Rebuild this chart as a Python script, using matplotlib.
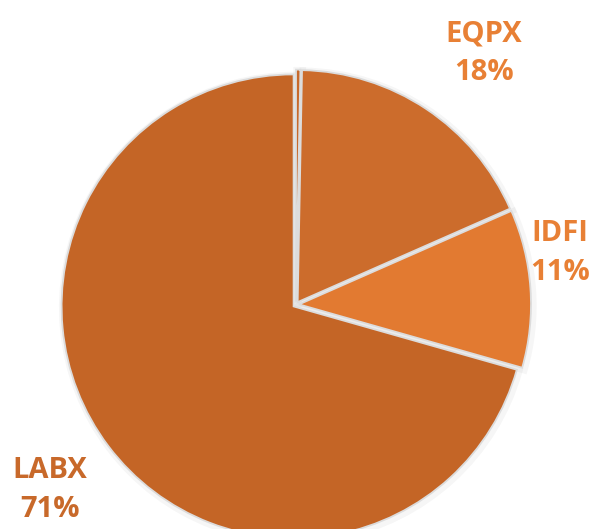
import matplotlib.pyplot as plt

# slice data (clockwise from 12 o'clock)
names = ['', 'EQPX', 'IDFI', 'LABX']
shares = [0.3, 18.1, 11.0, 70.6]
colors = ['#C8692B', '#CC6C2C', '#E27A31', '#C46526']
explode = [3, 3, 3, 3]

fig = plt.figure(figsize=(5.95, 5.29), dpi=100)
ax = fig.add_axes([0, 0, 1, 1])

center = (296, 224.4)
radius = 232

# faint grey glow under the slices
ax.pie(shares, colors=['none'] * 4, startangle=90, counterclock=False,
       center=(center[0] + 1.5, center[1] - 1.5), radius=radius,
       explode=explode, frame=True,
       wedgeprops=dict(edgecolor='#000000', linewidth=6, alpha=0.035))

ax.pie(shares, colors=colors, startangle=90, counterclock=False,
       center=center, radius=radius, explode=explode, frame=True,
       wedgeprops=dict(edgecolor='#dcdcdc', linewidth=1.3))

ax.set_xlim(0, 595)
ax.set_ylim(0, 529)
ax.set_aspect('equal')
ax.axis('off')

font = dict(family='Open Sans', fontweight='bold', fontsize=21,
            ha='center', va='center', linespacing=1.45)
labels = {'EQPX': ((484, 476), '#E88035'),
          'IDFI': ((560, 276), '#E88035'),
          'LABX': ((50, 39), '#C8692A')}
for n, s in zip(names, shares):
    if n in labels:
        (x, y), c = labels[n]
        ax.text(x, y, '%s\n%d%%' % (n, round(s)), color=c, **font)

fig.savefig('out.png', dpi=100)
